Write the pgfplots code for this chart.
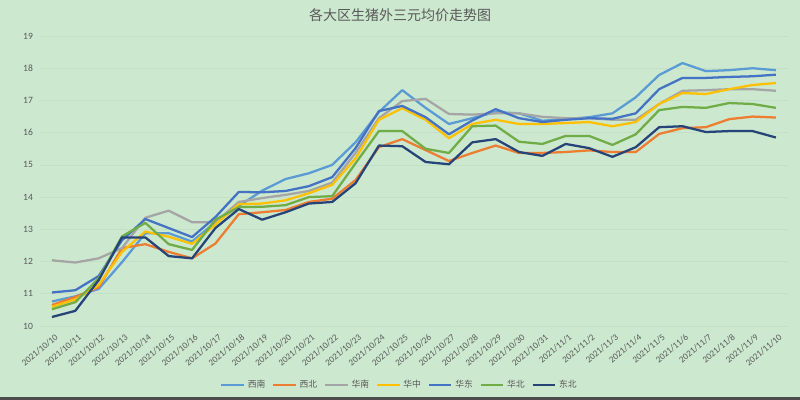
\documentclass[border=0pt]{standalone}
\usepackage{pgfplots}
\pgfplotsset{compat=1.18}
\usepackage{pgfplotstable}
\usepackage{fontspec}
\setmainfont{Carlito}
\newfontfamily\cjk{Noto Sans CJK SC}
\definecolor{bg}{HTML}{CCE8CF}
\definecolor{gridc}{HTML}{C3DFC6}
\definecolor{txt}{HTML}{595959}
\definecolor{cXN}{HTML}{5B9BD5}
\definecolor{cXB}{HTML}{ED7D31}
\definecolor{cHN}{HTML}{A5A5A5}
\definecolor{cHZ}{HTML}{FFC000}
\definecolor{cHD}{HTML}{4472C4}
\definecolor{cHB}{HTML}{70AD47}
\definecolor{cDB}{HTML}{264478}
\pgfplotstableread{
i XN XB HN HZ HD HB DB
0 10.76 10.65 12.04 10.60 11.04 10.52 10.28
1 10.92 10.90 11.97 10.82 11.11 10.74 10.47
2 11.15 11.20 12.10 11.27 11.55 11.48 11.42
3 11.98 12.42 12.42 12.30 12.66 12.78 12.75
4 12.88 12.54 13.36 12.93 13.32 13.20 12.75
5 12.88 12.30 13.58 12.77 13.04 12.54 12.17
6 12.62 12.10 13.22 12.55 12.76 12.36 12.10
7 13.22 12.56 13.22 13.15 13.38 13.30 13.04
8 13.72 13.47 13.85 13.78 14.16 13.69 13.63
9 14.20 13.53 13.97 13.80 14.15 13.70 13.30
10 14.56 13.60 14.07 13.90 14.19 13.75 13.53
11 14.74 13.85 14.19 14.12 14.34 14.00 13.80
12 15.00 13.95 14.45 14.38 14.62 14.03 13.85
13 15.70 14.53 15.37 15.20 15.52 15.05 14.43
14 16.64 15.55 16.45 16.40 16.67 16.05 15.60
15 17.32 15.80 16.98 16.76 16.83 16.05 15.58
16 16.77 15.46 17.05 16.40 16.48 15.50 15.09
17 16.27 15.12 16.58 15.83 15.95 15.37 15.02
18 16.45 15.37 16.56 16.27 16.38 16.20 15.70
19 16.64 15.60 16.60 16.40 16.73 16.22 15.80
20 16.60 15.37 16.60 16.27 16.45 15.72 15.40
21 16.37 15.37 16.49 16.27 16.33 15.65 15.28
22 16.42 15.40 16.45 16.30 16.40 15.90 15.65
23 16.48 15.45 16.45 16.33 16.45 15.90 15.52
24 16.60 15.40 16.40 16.20 16.43 15.62 15.25
25 17.10 15.40 16.40 16.33 16.60 15.95 15.55
26 17.79 15.96 16.89 16.89 17.35 16.70 16.17
27 18.16 16.14 17.30 17.23 17.70 16.80 16.20
28 17.91 16.17 17.32 17.20 17.70 16.77 16.02
29 17.94 16.42 17.35 17.35 17.73 16.92 16.05
30 18.00 16.50 17.35 17.48 17.75 16.89 16.05
31 17.94 16.47 17.30 17.54 17.80 16.77 15.85
}\data
\begin{document}
\begin{tikzpicture}[x=1pt,y=1pt]
\fill[bg] (0,0) rectangle (600,300);
\fill[black!70] (0,0) rectangle (600,2.5);
\node[text=txt,font=\cjk\fontsize{10.5}{12}\selectfont] at (300,288.5) {各大区生猪外三元均价走势图};
\begin{axis}[
  at={(30.2pt,55.5pt)}, anchor=south west,
  scale only axis, width=560.5pt, height=217.5pt,
  xmin=-0.5, xmax=31.5, ymin=10, ymax=19,
  ytick={10,...,19},
  xtick={0,...,31},
  xticklabels={2021/10/10,2021/10/11,2021/10/12,2021/10/13,2021/10/14,2021/10/15,2021/10/16,2021/10/17,2021/10/18,2021/10/19,2021/10/20,2021/10/21,2021/10/22,2021/10/23,2021/10/24,2021/10/25,2021/10/26,2021/10/27,2021/10/28,2021/10/29,2021/10/30,2021/10/31,2021/11/1,2021/11/2,2021/11/3,2021/11/4,2021/11/5,2021/11/6,2021/11/7,2021/11/8,2021/11/9,2021/11/10},
  axis line style={draw=none},
  major tick length=0pt,
  ymajorgrids, grid style={gridc, line width=0.5pt},
  /pgf/number format/assume math mode=true,
  yticklabel style={text=txt, font=\fontsize{7.2}{8}\selectfont, anchor=east, xshift=-2pt},
  xticklabel style={text=txt, font=\fontsize{6.8}{8}\selectfont, inner sep=0pt, anchor=east, xshift=3.5pt, yshift=-7.5pt, rotate=40},
  legend columns=7,
  legend style={at={(0.481,-0.203)}, anchor=center, draw=none, fill=none,
    font=\cjk\fontsize{6.6}{7}\selectfont, text=txt,
    /tikz/every even column/.append style={column sep=3pt}},
  legend image code/.code={\draw[#1] (0pt,0pt) -- (17pt,0pt);},
  every axis plot/.append style={line width=1.7pt, line join=round, mark=none},
]
\addplot[cXN] table[x=i,y=XN]{\data};
\addlegendentry{西南}
\addplot[cXB] table[x=i,y=XB]{\data};
\addlegendentry{西北}
\addplot[cHN] table[x=i,y=HN]{\data};
\addlegendentry{华南}
\addplot[cHZ] table[x=i,y=HZ]{\data};
\addlegendentry{华中}
\addplot[cHD] table[x=i,y=HD]{\data};
\addlegendentry{华东}
\addplot[cHB] table[x=i,y=HB]{\data};
\addlegendentry{华北}
\addplot[cDB] table[x=i,y=DB]{\data};
\addlegendentry{东北}
\end{axis}
\end{tikzpicture}
\end{document}
